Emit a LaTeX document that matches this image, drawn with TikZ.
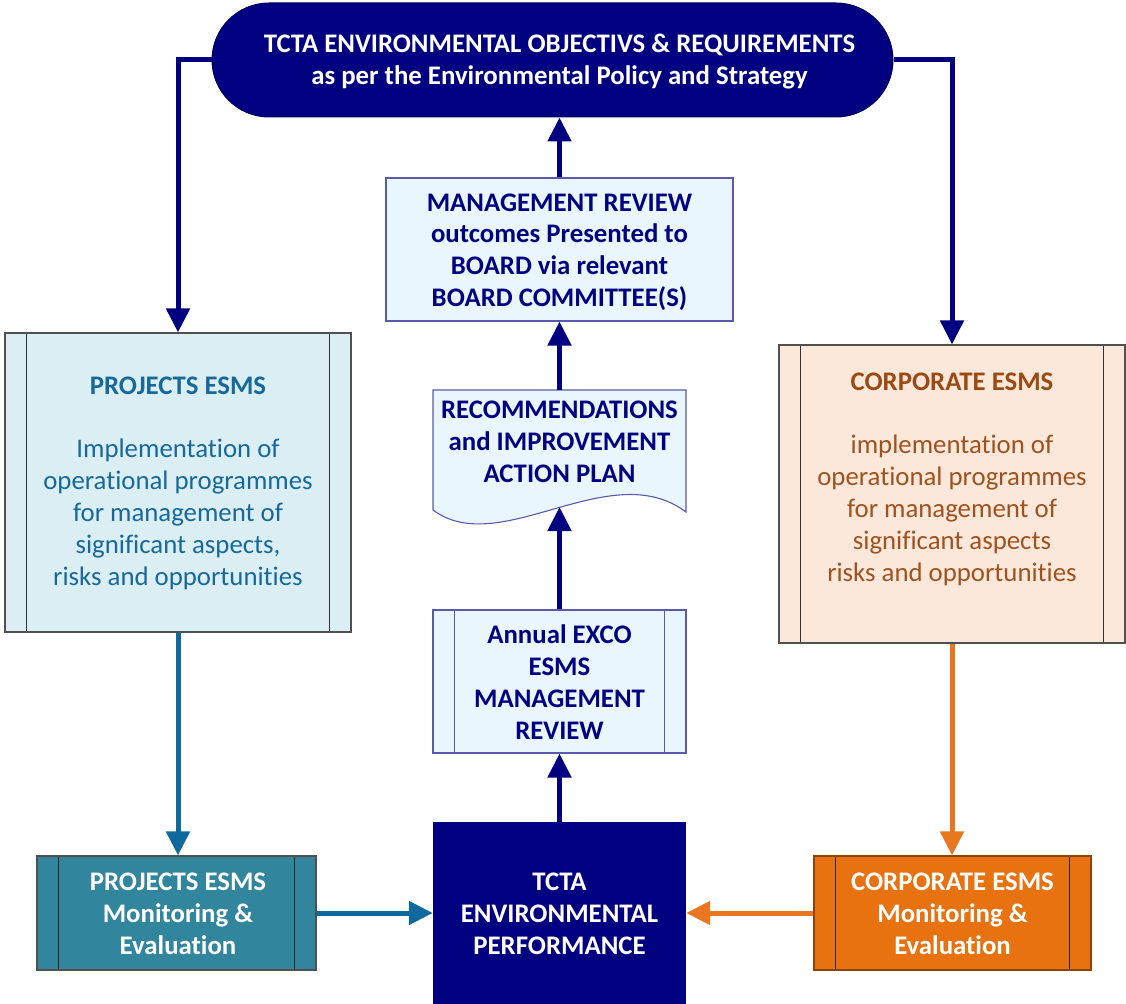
\documentclass[tikz,border=0pt]{standalone}
\usepackage{fontspec}
\setmainfont{Carlito}[Ligatures=NoCommon]
\usetikzlibrary{arrows.meta,positioning}
\definecolor{navyc}{HTML}{000080}
\definecolor{tealarrow}{HTML}{0E6A9C}
\definecolor{projtext}{HTML}{17699A}
\definecolor{projfill}{HTML}{DAEEF3}
\definecolor{lightblue}{HTML}{EAF6FD}
\definecolor{boxborder}{HTML}{5A5AAA}
\definecolor{corpfill}{HTML}{FBE8DA}
\definecolor{corptext}{HTML}{A0521E}
\definecolor{corptitle}{HTML}{9A4A12}
\definecolor{orangearrow}{HTML}{E8771F}
\definecolor{projme}{HTML}{31859C}
\definecolor{corpme}{HTML}{E8720F}
\definecolor{grayborder}{HTML}{505050}
\tikzset{
  txt/.style={font=\fontsize{26.8}{31.8}\selectfont, align=center, inner sep=0pt},
  boldtxt/.style={txt, font=\fontsize{26.8}{31.8}\selectfont\bfseries},
  predef/.style={draw, line width=1.1pt, inner sep=0pt,
    path picture={
      \draw[line width=1.1pt, #1]
        ([xshift=21.5pt]path picture bounding box.north west) -- ([xshift=21.5pt]path picture bounding box.south west)
        ([xshift=-21.5pt]path picture bounding box.north east) -- ([xshift=-21.5pt]path picture bounding box.south east);}},
  predef/.default=black,
  arr/.style={line width=5pt, -{Triangle[width=23pt,length=24pt]}},
}
\begin{document}
\begin{tikzpicture}[x=1pt,y=-1pt]
\useasboundingbox (0,0) rectangle (1126,1003);

% top terminator
\node[fill=navyc, draw=navyc!70!black, line width=1pt, rounded corners=57pt,
      minimum width=681pt, minimum height=114pt, inner sep=0pt] (top) at (552.5,60) {};
\node[boldtxt, text=white] (toptext) at (559.5,61.5)
  {TCTA ENVIRONMENTAL OBJECTIVS \& REQUIREMENTS\\as per the Environmental Policy and Strategy};

% management review
\node[draw=boxborder, fill=lightblue, line width=1.1pt, minimum width=347pt, minimum height=143pt, inner sep=0pt]
  (mgmt) at (559.5,249.5) {};
\node[boldtxt, text=navyc] at (559.5,252)
  {MANAGEMENT REVIEW\\outcomes Presented to\\BOARD via relevant\\BOARD COMMITTEE(S)};

% document shape
\node[minimum width=253pt, minimum height=120pt, inner sep=0pt] (doc) at (559.5,450) {};
\coordinate (docwave) at (559.5,507);
\draw[draw=boxborder, fill=lightblue, line width=1.1pt]
  (433,390) -- (686,390) -- (686,512) .. controls (610,455) and (500,560) .. (433,510) -- cycle;
\node[boldtxt, text=navyc] (doctext) at (559.5,441.5)
  {RECOMMENDATIONS\\and IMPROVEMENT\\ACTION PLAN};

% annual exco
\node[predef=boxborder, draw=boxborder, fill=lightblue, minimum width=253pt, minimum height=143pt]
  (exco) at (559.5,681.5) {};
\node[boldtxt, text=navyc] at (559.5,682)
  {Annual EXCO\\ESMS\\MANAGEMENT\\REVIEW};

% performance
\node[fill=navyc, minimum width=253pt, minimum height=183pt, inner sep=0pt] (perf) at (559.5,913.5) {};
\node[boldtxt, text=white] at (559.5,914)
  {TCTA\\ENVIRONMENTAL\\PERFORMANCE};

% projects ESMS
\node[predef=black!80, draw=grayborder, fill=projfill, minimum width=346pt, minimum height=299pt]
  (proj) at (178,482.5) {};
\node[txt, text=projtext] at (178,483)
  {\textbf{PROJECTS ESMS}\\[31.8pt]Implementation of\\operational programmes\\for management of\\significant aspects,\\risks and opportunities};

% corporate ESMS
\node[predef=black!80, draw=grayborder, fill=corpfill, minimum width=346pt, minimum height=298pt]
  (corp) at (952,494) {};
\node[txt, text=corptext] at (952,479)
  {\textcolor{corptitle}{\textbf{CORPORATE ESMS}}\\[31.8pt]implementation of\\operational programmes\\for management of\\significant aspects\\risks and opportunities};

% monitoring boxes
\node[predef=black!85, draw=grayborder, fill=projme, minimum width=279pt, minimum height=114pt]
  (projme) at (176.5,913) {};
\node[boldtxt, text=white] at (178,913.5) {PROJECTS ESMS\\Monitoring \&\\Evaluation};

\node[predef=black!85, draw=corpme!60!black, fill=corpme, minimum width=277pt, minimum height=114pt]
  (corpme) at (952.5,913) {};
\node[boldtxt, text=white] at (952.5,913.5) {CORPORATE ESMS\\Monitoring \&\\Evaluation};

% connectors
\draw[arr, navyc] (top.west) -- (178,60) -- (proj.north);
\draw[arr, navyc] (top.east) -- (952,60) -- (corp.north);
\draw[arr, navyc] (mgmt.north) -- (top.south -| mgmt.north);
\draw[arr, navyc] (doc.north |- 0,390) -- (mgmt.south);
\draw[arr, navyc] (exco.north) -- (docwave);
\draw[arr, navyc] (perf.north) -- (exco.south);
\draw[arr, tealarrow] (proj.south) -- (proj.south |- projme.north);
\draw[arr, tealarrow] (projme.east) -- (perf.west |- projme.east);
\draw[arr, orangearrow] (corp.south) -- (corp.south |- corpme.north);
\draw[arr, orangearrow] (corpme.west) -- (perf.east |- corpme.west);
\end{tikzpicture}
\end{document}
